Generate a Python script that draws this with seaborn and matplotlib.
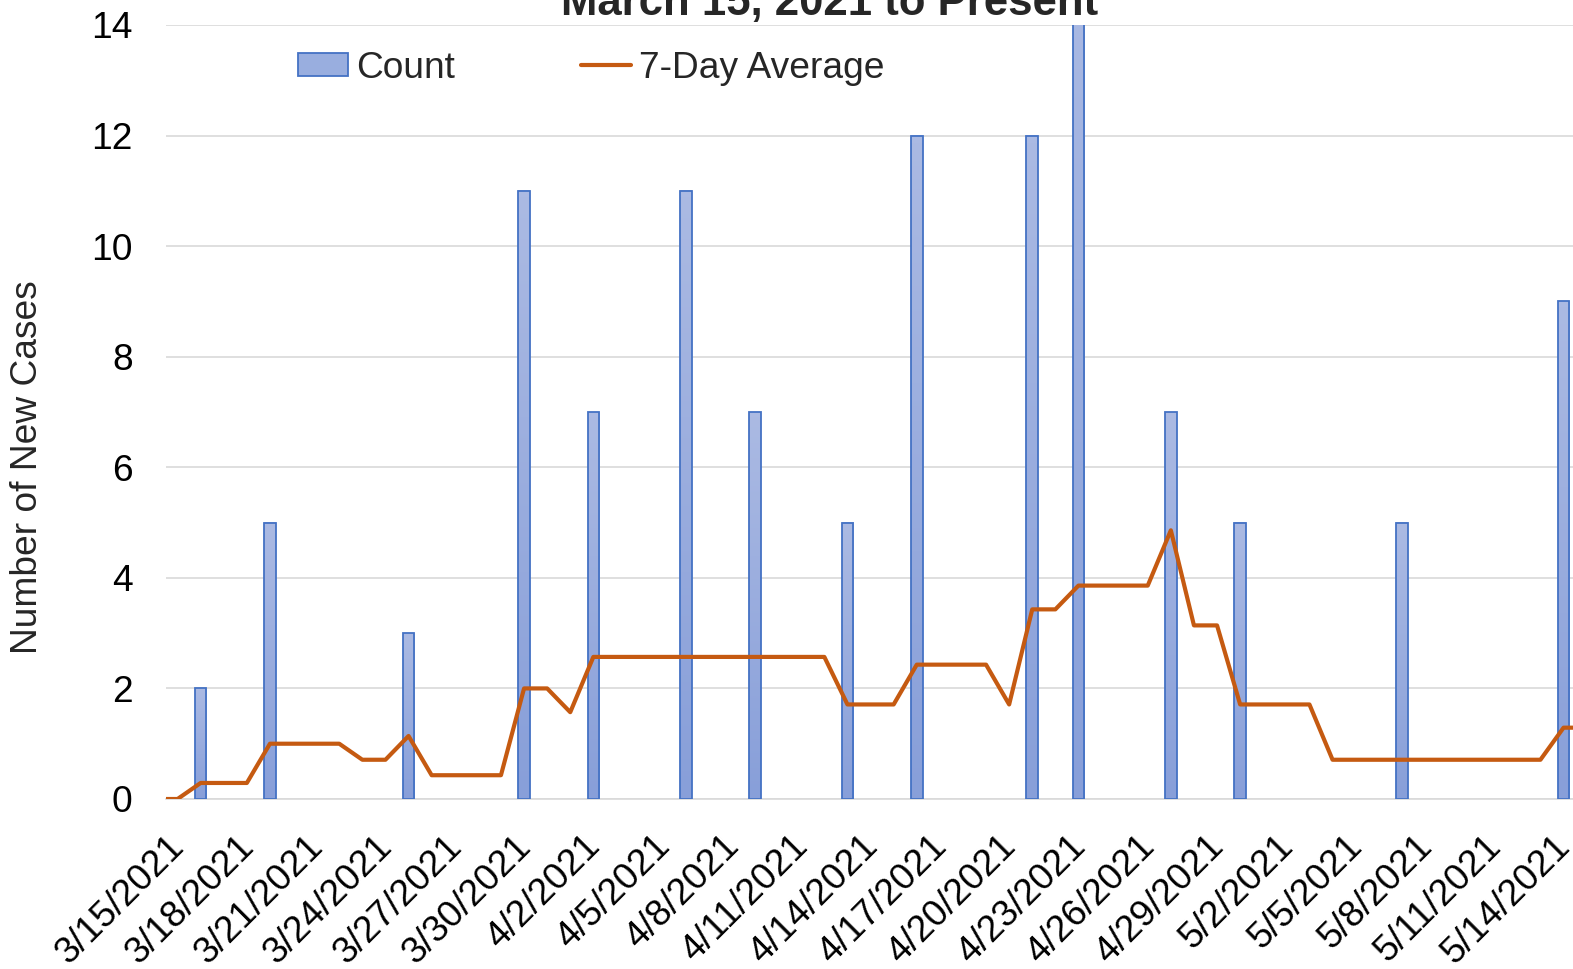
import numpy as np
import pandas as pd
import matplotlib
matplotlib.use("Agg")
import matplotlib.pyplot as plt
import matplotlib.transforms as mtransforms
from matplotlib.colors import LinearSegmentedColormap
import seaborn as sns
from matplotlib.patches import Patch
from matplotlib.lines import Line2D

# ---------------- data ----------------
start_date = "2021-03-15"
end_date = "2021-05-14"
case_dates = ["2021-03-16", "2021-03-19", "2021-03-25", "2021-03-30", "2021-04-02",
              "2021-04-06", "2021-04-09", "2021-04-13", "2021-04-16", "2021-04-21",
              "2021-04-23", "2021-04-27", "2021-04-30", "2021-05-07", "2021-05-14"]
case_counts = [2, 5, 3, 11, 7, 11, 7, 5, 12, 12, 15, 7, 5, 5, 9]

# 7-day average, 3/14 .. 5/15
avg_start = "2021-03-14"
avg_values = [0.0,
              0.0, 0.29, 0.29, 0.29, 1.0, 1.0, 1.0, 1.0, 0.71, 0.71,
              1.14, 0.43, 0.43, 0.43, 0.43, 2.0, 2.0, 1.57,
              2.57, 2.57, 2.57, 2.57, 2.57, 2.57, 2.57, 2.57, 2.57, 2.57, 2.57,
              1.71, 1.71, 1.71, 2.43, 2.43, 2.43, 2.43, 1.71,
              3.43, 3.43, 3.86, 3.86, 3.86, 3.86, 4.86, 3.14, 3.14,
              1.71, 1.71, 1.71, 1.71,
              0.71, 0.71, 0.71, 0.71, 0.71, 0.71, 0.71, 0.71, 0.71, 0.71,
              1.29, 1.29]

y_ticks = [0, 2, 4, 6, 8, 10, 12, 14]
title_text = "March 15, 2021 to Present"
y_label = "Number of New Cases"
legend_labels = ["Count", "7-Day Average"]

# ---------------- tables ----------------
days = pd.date_range(start_date, end_date, freq="D")
t0 = pd.Timestamp(start_date)
counts = pd.Series(0, index=days)
counts.loc[pd.to_datetime(case_dates)] = case_counts
bar_df = pd.DataFrame({"day": (days - t0).days.astype(float), "count": counts.values})

avg_days = pd.date_range(avg_start, periods=len(avg_values), freq="D")
line_df = pd.DataFrame({"day": (avg_days - t0).days.astype(float), "avg": avg_values})

# ---------------- style ----------------
sns.set_theme(style="white")
plt.rcParams["font.family"] = ["Liberation Sans", "DejaVu Sans"]
FS = 26.7
GRID = "#D9D9D9"
BAR_FILL = "#99AEDF"
BAR_TOP = "#ABBAE3"
BAR_BOTTOM = "#889FD9"
BAR_EDGE = "#4472C4"
LINE_C = "#C55A11"

W, H = 1573, 969
fig = plt.figure(figsize=(W / 100, H / 100), dpi=100)
slot = 23.1
ax_left, ax_bottom, ax_top = 166, 799, 25
n_slots = 62
ax = fig.add_axes([ax_left / W, (H - ax_bottom) / H, n_slots * slot / W, (ax_bottom - ax_top) / H])

sns.barplot(data=bar_df, x="day", y="count", native_scale=True, width=0.5,
            color=BAR_FILL, saturation=1, edgecolor=BAR_EDGE, linewidth=1.3,
            ax=ax, zorder=3)

# per-bar vertical gradient fill (light top, darker bottom)
grad_cmap = LinearSegmentedColormap.from_list("bargrad", [BAR_BOTTOM, BAR_TOP])
grad = np.linspace(0, 1, 64).reshape(-1, 1)
for p in list(ax.patches):
    h = p.get_height()
    if h == 0:
        p.set_visible(False)
        continue
    x0 = p.get_x()
    w = p.get_width()
    p.set_facecolor("none")
    p.set_zorder(4)
    ax.imshow(grad, cmap=grad_cmap, origin="lower", aspect="auto",
              extent=(x0, x0 + w, 0, h), zorder=3, interpolation="bilinear")

sns.lineplot(data=line_df, x="day", y="avg", color=LINE_C, linewidth=3,
             ax=ax, zorder=5, solid_joinstyle="round", solid_capstyle="butt")

ax.set_xlim(-0.5, n_slots - 0.5)
ax.set_ylim(0, 14)
ax.set_yticks(y_ticks)
ax.set_yticklabels([str(v) for v in y_ticks], fontsize=FS)
ax.yaxis.grid(True, color=GRID, linewidth=1.2, zorder=0)
ax.set_axisbelow(True)

tick_idx = list(range(0, len(days), 3))
ax.set_xticks([bar_df["day"].iloc[i] - 0.5 for i in tick_idx])
ax.set_xticklabels([f"{d.month}/{d.day}/{d.year}" for d in days[tick_idx]], fontsize=FS)

ax.tick_params(axis="x", length=7, width=1.2, color=GRID, pad=28.3, labelcolor="black")
ax.tick_params(axis="y", length=0, pad=24, labelcolor="black")

offset = mtransforms.ScaledTranslation(20 / 100, 0, fig.dpi_scale_trans)
for tick in ax.xaxis.get_major_ticks():
    lab = tick.label1
    lab.set_rotation(45)
    lab.set_ha("right")
    lab.set_va("baseline")
    lab.set_rotation_mode("anchor")
    lab.set_transform(lab.get_transform() + offset)

for s in ["top", "right", "left"]:
    ax.spines[s].set_visible(False)
ax.spines["bottom"].set_color(GRID)
ax.spines["bottom"].set_linewidth(1.2)
ax.spines["bottom"].set_zorder(2)
ax.set_xlabel("")
ax.set_ylabel("")

fig.text(28 / W, 1 - 467 / H, y_label, rotation=90, ha="center", va="center", fontsize=FS)
fig.text(830 / W, 1 - 15 / H, title_text, ha="center", va="baseline",
         fontsize=31.5, fontweight="bold")

handles = [Patch(facecolor=BAR_FILL, edgecolor=BAR_EDGE, linewidth=1.3),
           Line2D([0], [0], color=LINE_C, linewidth=3)]
fig.legend(handles, legend_labels, loc="center left", bbox_to_anchor=(298 / W, 1 - 68 / H),
           bbox_transform=fig.transFigure, ncol=2, frameon=False, fontsize=FS,
           borderpad=0, borderaxespad=0, handlelength=1.36, handleheight=0.55,
           handletextpad=0.2, columnspacing=3.4)

fig.savefig("out.png", dpi=100)
